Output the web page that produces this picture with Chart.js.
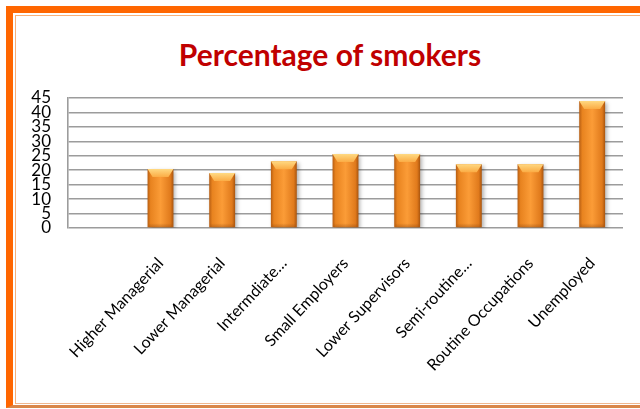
<!DOCTYPE html>
<html>
<head>
<meta charset="utf-8">
<script src="https://cdn.jsdelivr.net/npm/chart.js@4.4.1/dist/chart.umd.min.js"></script>
<style>
    html, body { margin: 0; padding: 0; background: #fff; overflow: hidden; }
    #frame {
        position: absolute; left: 6px; top: 6px; width: 640px; height: 392px;
        border-top: 7px solid #ff6600; border-left: 7px solid #ff6600;
        border-bottom: 3px solid #d9874a;
    }
    #inner {
        position: absolute; left: 2px; top: 2px; right: 0; bottom: 1px;
        border-top: 1px solid #f7b07a; border-left: 1px solid #f7b07a; border-bottom: 1px solid #f0b890;
    }
    #title {
        position: absolute; left: 0; top: 36px; width: 660px; text-align: center;
        font-family: Lato, sans-serif; font-weight: bold;
        font-size: 30px; color: #c00000;
    }
    #wrap { position: absolute; left: 0; top: 0; width: 640px; height: 409px; }
</style>
</head>
<body>
<div id="frame"><div id="inner"></div></div>
<div id="title">Percentage of smokers</div>
<div id="wrap"><canvas id="chart"></canvas></div>
<script>
// categories (first slot is empty in the original chart)
var categories = ["", "Higher Managerial", "Lower Managerial", "Intermdiate…", "Small Employers",
    "Lower Supervisors", "Semi-routine…", "Routine Occupations", "Unemployed"];
var smokers = [null, 20.4, 19.0, 23.1, 25.6, 25.6, 22.1, 22.1, 44.0];
var yTicks = [0, 5, 10, 15, 20, 25, 30, 35, 40, 45];

function barGradient(context) {
    var chart = context.chart;
    var x = chart.scales.x ? chart.scales.x.getPixelForValue(context.dataIndex) : NaN;
    if (!isFinite(x)) return "#f7942f";
    var half = 13;
    var g = chart.ctx.createLinearGradient(x - half, 0, x + half, 0);
    g.addColorStop(0, "#b65d12");
    g.addColorStop(0.12, "#e8831f");
    g.addColorStop(0.5, "#fb9c37");
    g.addColorStop(0.88, "#e07a1c");
    g.addColorStop(1, "#a8540e");
    return g;
}

// soft shadow under the bars + light bevel on top
var bevelPlugin = {
    id: "bevel",
    beforeDatasetDraw: function (chart) {
        var ctx = chart.ctx;
        ctx.save();
        ctx.shadowColor = "rgba(0,0,0,0.3)";
        ctx.shadowBlur = 4;
        ctx.shadowOffsetX = 2;
        ctx.shadowOffsetY = 2;
    },
    afterDatasetDraw: function (chart) {
        chart.ctx.restore();
    },
    afterDatasetsDraw: function (chart) {
        var ctx = chart.ctx;
        var meta = chart.getDatasetMeta(0);
        meta.data.forEach(function (bar, i) {
            if (smokers[i] === null) return;
            var p = bar.getProps(["x", "y", "width", "base"], true);
            var l = p.x - p.width / 2, r = p.x + p.width / 2;
            var g = ctx.createLinearGradient(0, p.y, 0, p.y + 8);
            g.addColorStop(0, "#ffd982");
            g.addColorStop(1, "#fbac45");
            ctx.save();
            ctx.fillStyle = g;
            ctx.beginPath();
            ctx.moveTo(l, p.y);
            ctx.lineTo(r, p.y);
            ctx.lineTo(r - 5, p.y + 8);
            ctx.lineTo(l + 5, p.y + 8);
            ctx.closePath();
            ctx.fill();
            // slightly darker bottom edge
            var gb = ctx.createLinearGradient(0, p.base - 4, 0, p.base);
            gb.addColorStop(0, "rgba(150,75,15,0)");
            gb.addColorStop(1, "rgba(150,75,15,0.45)");
            ctx.fillStyle = gb;
            ctx.fillRect(l + 1, p.base - 4, p.width - 2, 4);
            ctx.restore();
        });
    }
};

new Chart(document.getElementById("chart"), {
    type: "bar",
    data: {
        labels: categories,
        datasets: [{
            data: smokers,
            backgroundColor: barGradient,
            borderWidth: 0,
            barPercentage: 0.42,
            categoryPercentage: 1
        }]
    },
    options: {
        responsive: true,
        maintainAspectRatio: false,
        animation: false,
        layout: { padding: { top: 98, right: 17, left: 0, bottom: 0 } },
        plugins: {
            legend: { display: false },
            tooltip: { enabled: false }
        },
        scales: {
            x: {
                afterFit: function (scale) { scale.height = 181; },
                grid: { display: false },
                border: { display: false },
                ticks: {
                    autoSkip: false,
                    minRotation: 47,
                    maxRotation: 47,
                    padding: 18,
                    color: "#000",
                    font: { family: "Lato", size: 16 }
                }
            },
            y: {
                min: 0,
                max: 45,
                afterFit: function (scale) { scale.width = 68; },
                afterBuildTicks: function (scale) {
                    scale.ticks = yTicks.map(function (v) { return { value: v }; });
                },
                grid: { color: "#9c9c9c", lineWidth: 1.6, drawTicks: false },
                border: { color: "#9c9c9c", width: 1.6 },
                ticks: {
                    autoSkip: false,
                    padding: 17,
                    color: "#000",
                    font: { family: "Lato", size: 17, lineHeight: 1 }
                }
            }
        }
    },
    plugins: [bevelPlugin]
});
</script>
</body>
</html>
